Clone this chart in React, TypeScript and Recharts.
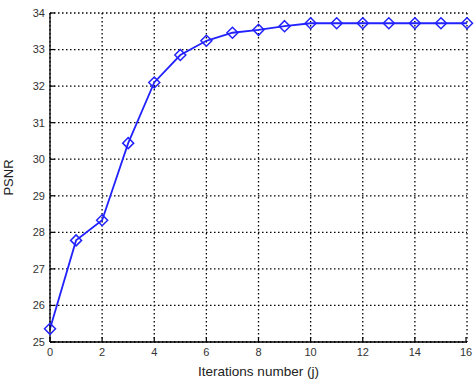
import React from 'react';
import {
  LineChart,
  Line,
  XAxis,
  YAxis,
  CartesianGrid,
} from 'recharts';

const iterations = [0, 1, 2, 3, 4, 5, 6, 7, 8, 9, 10, 11, 12, 13, 14, 15, 16];
const psnr = [
  25.36, 27.78, 28.33, 30.44, 32.1, 32.85, 33.24, 33.46, 33.54, 33.64,
  33.72, 33.72, 33.72, 33.72, 33.72, 33.72, 33.72,
];
const xTicks = [0, 2, 4, 6, 8, 10, 12, 14, 16];
const yTicks = [25, 26, 27, 28, 29, 30, 31, 32, 33, 34];

const data = iterations.map((j, i) => ({ j, psnr: psnr[i] }));

const BLUE = '#2222ff';
const FONT = 'Liberation Sans, Arial, sans-serif';

const Diamond = (props: { cx?: number; cy?: number; index?: number }) => {
  const { cx, cy, index } = props;
  if (cx == null || cy == null) return null;
  const r = 5.5;
  return (
    <path
      key={index}
      d={`M${cx},${cy - r} L${cx + r},${cy} L${cx},${cy + r} L${cx - r},${cy} Z`}
      fill="none"
      stroke={BLUE}
      strokeWidth={1.5}
    />
  );
};

// tick label plus a short inward tick mark (MATLAB style)
const BottomTick = (props: any) => {
  const { x, y, payload } = props;
  const axisY = y - 6;
  return (
    <g>
      <line x1={x} y1={axisY} x2={x} y2={axisY - 5} stroke="#000" strokeWidth={1.2} />
      <text x={x} y={y} dy="0.71em" textAnchor="middle" fontFamily={FONT} fontSize={11} fill="#333">
        {payload.value}
      </text>
    </g>
  );
};

const LeftTick = (props: any) => {
  const { x, y, payload } = props;
  const axisX = x + 5;
  return (
    <g>
      <line x1={axisX} y1={y} x2={axisX + 5} y2={y} stroke="#000" strokeWidth={1.2} />
      <text x={x} y={y} dy="0.355em" textAnchor="end" fontFamily={FONT} fontSize={11} fill="#333">
        {payload.value}
      </text>
    </g>
  );
};

const App: React.FC = () => {
  return (
    <div style={{ position: 'absolute', left: 0, top: 0, background: '#fff' }}>
      <LineChart
        width={474}
        height={381}
        data={data}
        margin={{ top: 13, right: 7, left: 0, bottom: 0 }}
      >
        <CartesianGrid
          stroke="#000"
          strokeDasharray="1.5 2.5"
          strokeWidth={1.3}
          verticalValues={xTicks}
          horizontalValues={yTicks}
        />
        <XAxis
          dataKey="j"
          type="number"
          domain={[0, 16]}
          ticks={xTicks}
          height={39}
          stroke="#000"
          strokeWidth={1.3}
          tickLine={false}
          tickSize={0}
          tickMargin={6}
          tick={<BottomTick />}
          label={{
            value: 'Iterations number (j)',
            position: 'insideBottom',
            offset: 5,
            style: { fontFamily: FONT, fontSize: 13.5, fill: '#222' },
          }}
        />
        <XAxis
          xAxisId="top"
          orientation="top"
          dataKey="j"
          type="number"
          domain={[0, 16]}
          ticks={xTicks}
          height={0}
          mirror
          tick={false}
          tickSize={5}
          stroke="#000"
          strokeWidth={1.3}
        />
        <YAxis
          type="number"
          domain={[25, 34]}
          ticks={yTicks}
          width={50}
          stroke="#000"
          strokeWidth={1.3}
          tickLine={false}
          tickSize={0}
          tickMargin={5}
          tick={<LeftTick />}
          label={{
            value: 'PSNR',
            angle: -90,
            position: 'insideLeft',
            offset: 8,
            style: { fontFamily: FONT, fontSize: 13, fill: '#222', textAnchor: 'middle' },
          }}
        />
        <YAxis
          yAxisId="right"
          orientation="right"
          type="number"
          domain={[25, 34]}
          ticks={yTicks}
          width={0}
          mirror
          tick={false}
          tickSize={5}
          stroke="#000"
          strokeWidth={1.3}
        />
        <Line
          type="linear"
          dataKey="psnr"
          stroke={BLUE}
          strokeWidth={1.8}
          dot={<Diamond />}
          isAnimationActive={false}
        />
      </LineChart>
    </div>
  );
};

export default App;
